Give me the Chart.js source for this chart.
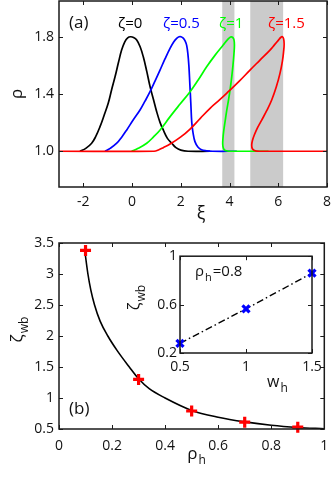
<!DOCTYPE html>
<html>
<head>
<meta charset="utf-8">
<script src="https://cdn.jsdelivr.net/npm/chart.js@4.4.1/dist/chart.umd.min.js"></script>
<style>
  body { margin: 0; background: #fff; }
  #wrap { position: relative; width: 333px; height: 479px; }
  canvas { position: absolute; }
</style>
</head>
<body>
<div id="wrap">
  <canvas id="chartA" width="333" height="230" style="left:0;top:0"></canvas>
  <canvas id="chartB" width="333" height="249" style="left:0;top:230px"></canvas>
  <canvas id="chartC" width="213" height="150" style="left:120px;top:248px"></canvas>
</div>
<script>
Chart.defaults.font.family = 'Open Sans';
Chart.defaults.font.size = 14;
Chart.defaults.color = '#111';

// ---- panel (a) data ----
const xiTicks = [-2, 0, 2, 4, 6, 8];
const rhoTicks = [1.0, 1.4, 1.8];
const bandFrom = [3.7, 4.85];
const bandTo = [4.2, 6.2];

// zeta = 0
const xi0 = [-2.14, -1.9, -1.66, -1.5, -1.32, -1.15, -0.98, -0.84, -0.70, -0.56, -0.43, -0.3, -0.18, -0.06, 0.06, 0.19, 0.33, 0.46, 0.6, 0.74, 0.88, 1.01, 1.15, 1.28, 1.45, 1.63, 1.8, 2.0, 2.3, 3.2];
const rho0 = [1.0, 1.02, 1.056, 1.1, 1.17, 1.25, 1.335, 1.43, 1.52, 1.62, 1.707, 1.765, 1.793, 1.8, 1.795, 1.777, 1.73, 1.66, 1.56, 1.45, 1.36, 1.276, 1.2, 1.149, 1.09, 1.056, 1.025, 1.008, 1.0, 1.0];

// zeta = 0.5
const xi1 = [-1.11, -0.9, -0.63, -0.42, -0.22, 0.05, 0.325, 0.53, 0.736, 0.94, 1.146, 1.35, 1.557, 1.7, 1.83, 1.93, 2.01, 2.1, 2.18, 2.24, 2.29, 2.33, 2.37, 2.41, 2.45, 2.5, 2.58, 2.7, 2.85, 3.06, 3.3, 4.3];
const rho1 = [1.0, 1.02, 1.056, 1.1, 1.149, 1.22, 1.288, 1.35, 1.416, 1.49, 1.567, 1.645, 1.719, 1.762, 1.789, 1.8, 1.8, 1.79, 1.77, 1.74, 1.68, 1.6, 1.47, 1.335, 1.2, 1.13, 1.067, 1.03, 1.01, 1.003, 1.0, 1.0];

// zeta = 1
const xi2 = [-0.02, 0.25, 0.6, 0.88, 1.15, 1.56, 1.97, 2.38, 2.72, 3.06, 3.4, 3.74, 3.92, 4.04, 4.12, 4.18, 4.2, 4.18, 4.14, 4.09, 4.03, 3.96, 3.88, 3.81, 3.76, 3.73, 3.72, 3.74, 3.79, 3.87, 3.98, 4.15, 5.6];
const rho2 = [1.0, 1.02, 1.056, 1.1, 1.149, 1.242, 1.33, 1.416, 1.5, 1.59, 1.67, 1.742, 1.78, 1.798, 1.797, 1.78, 1.74, 1.68, 1.6, 1.52, 1.44, 1.36, 1.28, 1.2, 1.14, 1.09, 1.05, 1.025, 1.01, 1.003, 1.0, 1.0, 1.0];

// zeta = 1.5
const xi3 = [-3, 0.9, 1.1, 1.28, 1.56, 2.0, 2.38, 2.8, 3.2, 3.6, 3.95, 4.4, 4.84, 5.25, 5.66, 5.85, 6.0, 6.1, 6.17, 6.22, 6.24, 6.22, 6.17, 6.07, 5.92, 5.73, 5.53, 5.32, 5.15, 5.02, 4.94, 4.91, 4.93, 5.0, 5.12, 5.3, 8];
const rho3 = [1.0, 1.0, 1.01, 1.025, 1.05, 1.1, 1.155, 1.23, 1.3, 1.36, 1.416, 1.49, 1.567, 1.637, 1.707, 1.745, 1.775, 1.795, 1.8, 1.785, 1.75, 1.7, 1.63, 1.544, 1.45, 1.358, 1.285, 1.218, 1.165, 1.115, 1.075, 1.045, 1.02, 1.007, 1.001, 1.0, 1.0];

// ---- panel (b) data ----
const rhoHTicks = [0, 0.2, 0.4, 0.6, 0.8, 1];
const zetaTicks = [0.5, 1, 1.5, 2, 2.5, 3, 3.5];
const rhoH = [0.097, 0.109, 0.12, 0.134, 0.155, 0.184, 0.22, 0.265, 0.3, 0.34, 0.4, 0.5, 0.6, 0.7, 0.8, 0.9, 1.0];
const zetaWb = [3.38, 3.0, 2.74, 2.5, 2.24, 2.0, 1.76, 1.5, 1.31, 1.15, 1.0, 0.8, 0.69, 0.615, 0.56, 0.525, 0.505];
const rhoHSim = [0.1, 0.3, 0.5, 0.7, 0.9];
const zetaWbSim = [3.38, 1.30, 0.79, 0.61, 0.53];

// ---- inset data ----
const wTicks = [0.5, 1, 1.5];
const zetaInsetTicks = [0.2, 0.6, 1];
const wH = [0.5, 1, 1.5];
const zetaInset = [0.28, 0.565, 0.86];

function zip(xs, ys) {
  return xs.map((x, i) => ({ x: x, y: ys[i] }));
}

function fixTicks(list) {
  return scale => { scale.ticks = list.map(v => ({ value: v })); };
}

function fixSize(prop, size) {
  return scale => {
    scale[prop] = size;
    scale.paddingLeft = scale.paddingRight = scale.paddingTop = scale.paddingBottom = 0;
  };
}

function axis(min, max, list, prop, size, pad, fmt) {
  return {
    type: 'linear', min: min, max: max,
    grid: { display: false, drawTicks: false },
    border: { display: false },
    afterBuildTicks: fixTicks(list),
    afterFit: fixSize(prop, size),
    ticks: { padding: pad, color: '#111', callback: fmt }
  };
}

// text with optional subscript, drawn at (x, y) baseline
function subText(ctx, t) {
  const fam = t.family || 'Open Sans';
  const ss = Math.round(t.size * 0.72);
  ctx.save();
  ctx.translate(t.x, t.y);
  if (t.rot) ctx.rotate(t.rot);
  ctx.fillStyle = t.color || '#111';
  ctx.textBaseline = 'alphabetic';
  ctx.font = t.size + 'px ' + fam;
  const w1 = ctx.measureText(t.text).width;
  let w2 = 0;
  if (t.sub) {
    ctx.font = ss + 'px ' + fam;
    w2 = ctx.measureText(t.sub).width;
  }
  let x0 = 0;
  if (t.align === 'center') x0 = -(w1 + w2) / 2;
  ctx.font = t.size + 'px ' + fam;
  ctx.fillText(t.text, x0, 0);
  if (t.sub) {
    ctx.font = ss + 'px ' + fam;
    ctx.fillText(t.sub, x0 + w1 + 1, t.size * 0.3);
  }
  if (t.after) {
    ctx.font = t.size + 'px ' + fam;
    ctx.fillText(t.after, x0 + w1 + w2 + 2, 0);
  }
  ctx.restore();
}

const framePlugin = {
  id: 'frame',
  beforeDatasetsDraw(chart, args, opts) {
    if (!opts.bands) return;
    const { ctx, chartArea: a, scales: { x } } = chart;
    ctx.save();
    ctx.fillStyle = '#cbcbcb';
    opts.bands[0].forEach((from, i) => {
      const l = x.getPixelForValue(from);
      const r = x.getPixelForValue(opts.bands[1][i]);
      ctx.fillRect(l, a.top, r - l, a.bottom - a.top);
    });
    ctx.restore();
  },
  afterDatasetsDraw(chart, args, opts) {
    const { ctx, chartArea: a, scales: { x, y } } = chart;
    const len = opts.tick || 4;
    ctx.save();
    ctx.strokeStyle = '#1a1a1a';
    ctx.lineWidth = 1;
    ctx.beginPath();
    x.ticks.forEach(t => {
      const p = Math.round(x.getPixelForValue(t.value)) + 0.5;
      ctx.moveTo(p, a.bottom); ctx.lineTo(p, a.bottom - len);
      ctx.moveTo(p, a.top); ctx.lineTo(p, a.top + len);
    });
    y.ticks.forEach(t => {
      const p = Math.round(y.getPixelForValue(t.value)) + 0.5;
      ctx.moveTo(a.left, p); ctx.lineTo(a.left + len, p);
      ctx.moveTo(a.right, p); ctx.lineTo(a.right - len, p);
    });
    ctx.stroke();
    ctx.lineWidth = 1.5;
    ctx.strokeRect(a.left, a.top, a.right - a.left, a.bottom - a.top);
    ctx.restore();
  },
  afterDraw(chart, args, opts) {
    (opts.texts || []).forEach(t => subText(chart.ctx, t));
  }
};

function curve(xs, ys, color, order) {
  return {
    data: zip(xs, ys), showLine: true, borderColor: color, borderWidth: 1.7,
    pointRadius: 0, tension: 0.4, order: order
  };
}

// Panel (a)
new Chart(document.getElementById('chartA'), {
  type: 'scatter',
  data: {
    datasets: [
      curve(xi0, rho0, '#000000', 4),
      curve(xi1, rho1, '#0000ff', 3),
      curve(xi2, rho2, '#00ff00', 2),
      curve(xi3, rho3, '#ff0000', 1)
    ]
  },
  options: {
    responsive: false, animation: false,
    layout: { padding: { left: 0, right: 6, top: 1, bottom: 0 } },
    plugins: {
      legend: { display: false }, tooltip: { enabled: false },
      frame: {
        bands: [bandFrom, bandTo],
        texts: [
          { text: '(a)', x: 69, y: 28, size: 17 },
          { text: 'ζ=0', x: 118, y: 28, size: 15, color: '#000' },
          { text: 'ζ=0.5', x: 163, y: 28, size: 15, color: '#0000ff' },
          { text: 'ζ=1', x: 219, y: 28, size: 15, color: '#00ff00' },
          { text: 'ζ=1.5', x: 268, y: 28, size: 15, color: '#ff0000' },
          { text: 'ρ', x: 22, y: 94, size: 17, align: 'center', rot: -Math.PI / 2 },
          { text: 'ξ', x: 201, y: 219, size: 18, align: 'center' }
        ]
      }
    },
    scales: {
      x: axis(-3, 8, xiTicks, 'height', 43, 7, v => String(v)),
      y: axis(0.75, 2.05, rhoTicks, 'width', 59, 5, v => v.toFixed(1))
    }
  },
  plugins: [framePlugin]
});

// Panel (b)
new Chart(document.getElementById('chartB'), {
  type: 'scatter',
  data: {
    datasets: [
      {
        data: zip(rhoHSim, zetaWbSim), pointStyle: 'cross', pointRadius: 5.5,
        borderWidth: 3.2, borderColor: '#ff0000', backgroundColor: '#ff0000', clip: false, order: 1
      },
      {
        data: zip(rhoH, zetaWb), showLine: true, borderColor: '#000', borderWidth: 1.6,
        pointRadius: 0, cubicInterpolationMode: 'monotone', order: 2
      }
    ]
  },
  options: {
    responsive: false, animation: false,
    layout: { padding: { left: 0, right: 6, top: 13, bottom: 0 } },
    plugins: {
      legend: { display: false }, tooltip: { enabled: false },
      frame: {
        texts: [
          { text: '(b)', x: 69, y: 184, size: 17 },
          { text: 'ζ', sub: 'wb', x: 23, y: 100, size: 17, align: 'center', rot: -Math.PI / 2 },
          { text: 'ρ', sub: 'h', x: 196, y: 229, size: 17, align: 'center' }
        ]
      }
    },
    scales: {
      x: axis(0, 1, rhoHTicks, 'height', 50, 9, v => String(+v.toFixed(2))),
      y: axis(0.5, 3.5, zetaTicks, 'width', 59, 5, v => String(+v.toFixed(2)))
    }
  },
  plugins: [framePlugin]
});

// Inset
new Chart(document.getElementById('chartC'), {
  type: 'scatter',
  data: {
    datasets: [
      {
        data: zip(wH, zetaInset), pointStyle: 'crossRot', pointRadius: 5,
        borderWidth: 3.2, borderColor: '#0000ff', backgroundColor: '#0000ff', clip: false, order: 1
      },
      {
        data: zip(wH, zetaInset), showLine: true, borderColor: '#000', borderWidth: 1.4,
        borderDash: [7, 3, 1.5, 3], pointRadius: 0, order: 2
      }
    ]
  },
  options: {
    responsive: false, animation: false,
    layout: { padding: { left: 0, right: 21, top: 5, bottom: 0 } },
    plugins: {
      legend: { display: false }, tooltip: { enabled: false },
      frame: {
        texts: [
          { text: 'ρ', sub: 'h', after: '=0.8', x: 75, y: 28, size: 15 },
          { text: 'ζ', sub: 'wb', x: 20, y: 50, size: 16, align: 'center', rot: -Math.PI / 2 },
          { text: 'w', sub: 'h', x: 147, y: 139, size: 16 }
        ]
      }
    },
    scales: {
      x: axis(0.5, 1.5, wTicks, 'height', 45, 6, v => String(+v.toFixed(2))),
      y: axis(0.2, 1, zetaInsetTicks, 'width', 60, 3, v => String(+v.toFixed(2)))
    }
  },
  plugins: [framePlugin]
});
</script>
</body>
</html>
